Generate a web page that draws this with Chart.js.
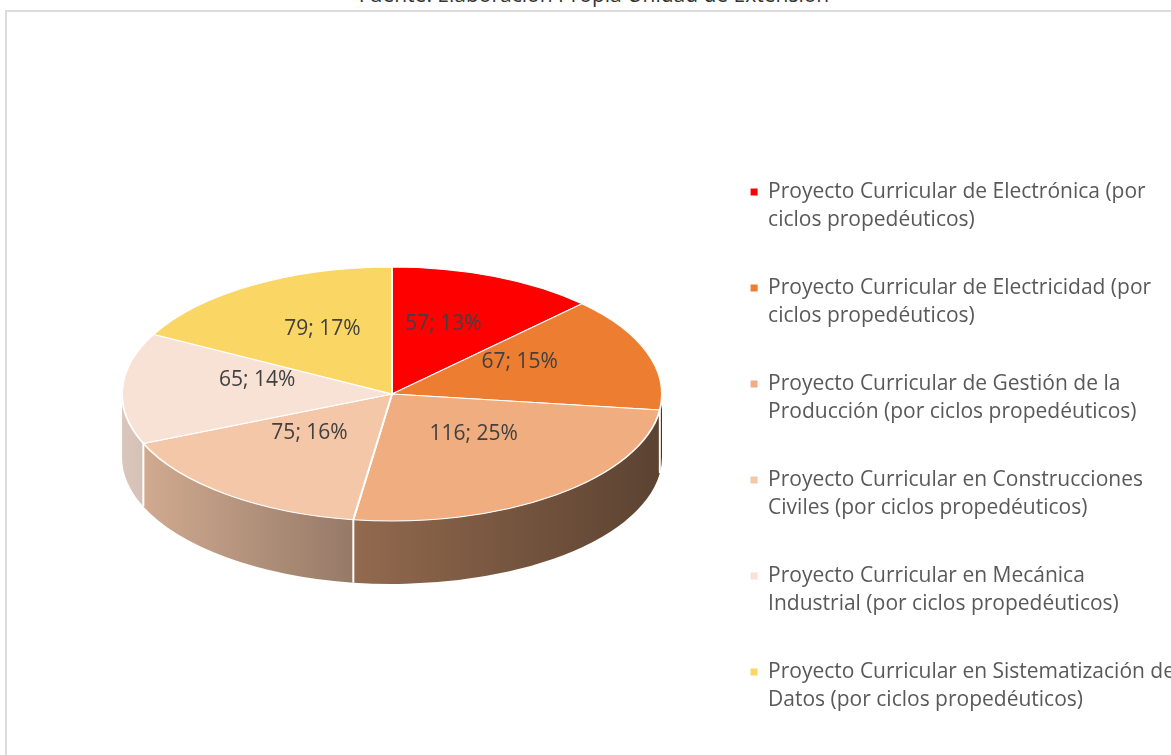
<!DOCTYPE html>
<html>
<head>
<meta charset="utf-8">
<script src="https://cdn.jsdelivr.net/npm/chart.js@4.4.1/dist/chart.umd.min.js"></script>
<style>
  html, body { margin: 0; padding: 0; width: 1171px; height: 755px; overflow: hidden; background: #fff; }
  #frame { position: absolute; left: 5px; top: 10px; width: 1200px; height: 800px; border-left: 2px solid #dcdcdc; border-top: 2px solid #dcdcdc; }
  #source { position: absolute; left: 0; top: -18px; width: 1188px; text-align: center; font-family: "Open Sans", sans-serif; font-size: 21px; line-height: 24px; color: #333333; white-space: nowrap; }
  #c { position: absolute; left: 0; top: 0; }
</style>
</head>
<body>
<div id="frame"></div>
<div id="source">Fuente: Elaboración Propia Unidad de Extensión</div>
<canvas id="c" width="1185" height="900" style="width:1185px;height:900px"></canvas>
<script>
// ---- data ----
const categories = [
  ['Proyecto Curricular de Electrónica (por', 'ciclos propedéuticos)'],
  ['Proyecto Curricular de Electricidad (por', 'ciclos propedéuticos)'],
  ['Proyecto Curricular de Gestión de la', 'Producción (por ciclos propedéuticos)'],
  ['Proyecto Curricular en Construcciones', 'Civiles (por ciclos propedéuticos)'],
  ['Proyecto Curricular en Mecánica', 'Industrial (por ciclos propedéuticos)'],
  ['Proyecto Curricular en Sistematización de', 'Datos (por ciclos propedéuticos)']
];
const values = [57, 67, 116, 75, 65, 79];
const percentLabels = ['13%', '15%', '25%', '16%', '14%', '17%'];
const colors = ['#FF0000', '#ED7D31', '#F0AE80', '#F4C7A8', '#F8E1D5', '#FAD765'];

// ---- 3D look settings ----
const CX = 392, CY = 394, RX = 270, RY = 127, DEPTH = 63;
const SQ = RY / RX;

function shade(hex, f) {
  const n = parseInt(hex.slice(1), 16);
  const r = Math.round(((n >> 16) & 255) * f);
  const g = Math.round(((n >> 8) & 255) * f);
  const b = Math.round((n & 255) * f);
  return `rgb(${r},${g},${b})`;
}

const pie3d = {
  id: 'pie3d',
  beforeDatasetsDraw(chart) {
    const ctx = chart.ctx;
    const meta = chart.getDatasetMeta(0);
    ctx.save();
    meta.data.forEach((arc, i) => {
      const s = Math.max(arc.startAngle, 0);
      const e = Math.min(arc.endAngle, Math.PI);
      if (e <= s) return;
      const g = ctx.createLinearGradient(CX - RX, 0, CX + RX, 0);
      g.addColorStop(0, shade(colors[i], 0.88));
      g.addColorStop(0.45, shade(colors[i], 0.6));
      g.addColorStop(1, shade(colors[i], 0.38));
      ctx.beginPath();
      ctx.ellipse(CX, CY, RX, RY, 0, s, e, false);
      ctx.lineTo(CX + RX * Math.cos(e), CY + DEPTH + RY * Math.sin(e));
      ctx.ellipse(CX, CY + DEPTH, RX, RY, 0, e, s, true);
      ctx.closePath();
      ctx.fillStyle = g;
      ctx.fill();
    });
    ctx.strokeStyle = '#ffffff';
    ctx.lineWidth = 2;
    meta.data.forEach((arc) => {
      const a = arc.endAngle;
      if (a > 0 && a < Math.PI) {
        const x = CX + RX * Math.cos(a), y = CY + RY * Math.sin(a);
        ctx.beginPath();
        ctx.moveTo(x, y);
        ctx.lineTo(x, y + DEPTH);
        ctx.stroke();
      }
    });
    ctx.restore();
    const a0 = meta.data[0];
    ctx.save();
    ctx.translate(CX, CY);
    ctx.scale(1, SQ);
    ctx.translate(-a0.x, -a0.y);
  },
  afterDatasetsDraw(chart) {
    const ctx = chart.ctx;
    ctx.restore();
    const meta = chart.getDatasetMeta(0);
    ctx.save();
    ctx.fillStyle = '#404040';
    ctx.font = '21px "Open Sans", sans-serif';
    ctx.textAlign = 'center';
    ctx.textBaseline = 'middle';
    meta.data.forEach((arc, i) => {
      const mid = (arc.startAngle + arc.endAngle) / 2;
      const r = arc.outerRadius * 0.5;
      const x = CX + Math.cos(mid) * r;
      const y = CY + Math.sin(mid) * r * SQ - 11;
      ctx.fillText(values[i] + '; ' + percentLabels[i], x, y);
    });
    ctx.restore();
  }
};

new Chart(document.getElementById('c'), {
  type: 'pie',
  data: {
    labels: categories,
    datasets: [{
      data: values,
      backgroundColor: colors,
      borderColor: '#ffffff',
      borderWidth: 2,
      radius: RX,
      clip: false
    }]
  },
  options: {
    responsive: false,
    animation: false,
    devicePixelRatio: 1,
    events: [],
    layout: { padding: { top: 141.5, left: 0, right: 0, bottom: 0 } },
    plugins: {
      tooltip: { enabled: false },
      legend: {
        position: 'right',
        align: 'start',
        labels: {
          boxWidth: 7,
          boxHeight: 7,
          padding: 40,
          color: '#595959',
          font: { family: '"Open Sans", sans-serif', size: 21, lineHeight: 28 / 21 },
          generateLabels(chart) {
            return categories.map((lines, i) => ({
              text: lines,
              fillStyle: colors[i],
              strokeStyle: colors[i],
              fontColor: '#595959',
              lineWidth: 0,
              hidden: false,
              index: i
            }));
          }
        }
      }
    }
  },
  plugins: [pie3d]
});
</script>
</body>
</html>
